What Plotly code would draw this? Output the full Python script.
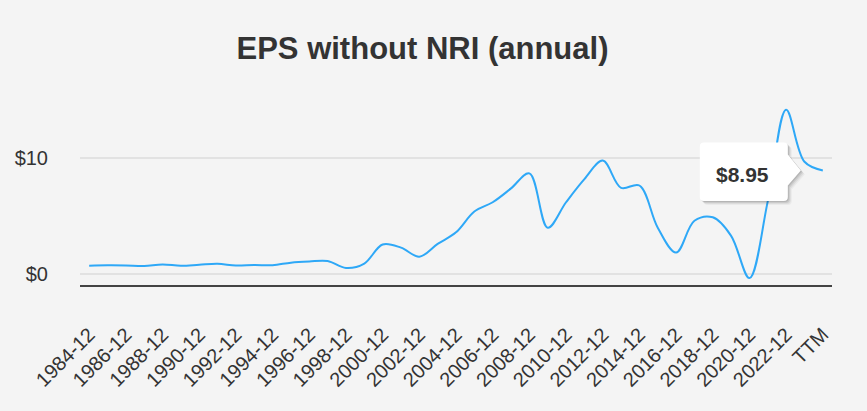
import plotly.graph_objects as go

# ---- data ----
labels = [f"{y}-12" for y in range(1984, 2024)] + ["TTM"]
eps = [0.72, 0.75, 0.74, 0.70, 0.82, 0.72, 0.80, 0.88, 0.73, 0.78,
       0.76, 0.98, 1.08, 1.12, 0.52, 0.90, 2.55, 2.28, 1.50, 2.60,
       3.60, 5.40, 6.20, 7.40, 8.70, 4.00, 6.20, 8.20, 9.80, 7.45,
       7.65, 4.00, 1.85, 4.60, 4.90, 3.30, -0.35, 6.30, 14.20, 9.70,
       8.95]
y_tick_vals = [0, 10]
y_tick_text = ["$0", "$10"]
title_text = "EPS without NRI (annual)"
tooltip_text = "$8.95"

xs = list(range(len(labels)))
tick_idx = [i for i, lab in enumerate(labels) if lab == "TTM" or (int(lab[:4]) - 1984) % 2 == 0]

BG = "#f4f4f4"
TXT = "#333333"
FONT = "Liberation Sans, Arial, sans-serif"

fig = go.Figure()
fig.add_trace(go.Scatter(
    x=xs, y=eps, mode="lines",
    line=dict(color="#2ea8f7", width=2, shape="spline", smoothing=1.0),
    hoverinfo="skip", showlegend=False,
))

last_i = xs[-1]
last_v = eps[-1]

box = ("M -119,28 L -39,28 Q -35,28 -35,24 L -35,16 L -22,0 L -35,-15 "
       "L -35,-26.5 Q -35,-30.5 -39,-30.5 L -119,-30.5 Q -123,-30.5 -123,-26.5 "
       "L -123,24 Q -123,28 -119,28 Z")

def shifted(path, dx, dy):
    out = []
    for tok in path.split(" "):
        if "," in tok:
            a, b = tok.split(",")
            out.append(f"{float(a)+dx},{float(b)+dy}")
        else:
            out.append(tok)
    return " ".join(out)

shapes = []
for (dx, dy, a) in [(4, -4, 0.04), (3, -3, 0.06), (2, -2, 0.08), (1, -1, 0.10)]:
    shapes.append(dict(type="path", xref="x", yref="y", xsizemode="pixel", ysizemode="pixel",
                       xanchor=last_i, yanchor=last_v, path=shifted(box, dx, dy),
                       fillcolor=f"rgba(0,0,0,{a})", line=dict(width=0), layer="above"))
shapes.append(dict(type="path", xref="x", yref="y", xsizemode="pixel", ysizemode="pixel",
                   xanchor=last_i, yanchor=last_v, path=box,
                   fillcolor="#ffffff", line=dict(width=0), layer="above"))

fig.update_layout(
    width=867, height=411,
    margin=dict(l=80, r=35, t=90, b=126),
    paper_bgcolor=BG, plot_bgcolor=BG,
    font=dict(family=FONT, color=TXT),
    title=dict(text=title_text, x=422.5 / 867, xref="container", xanchor="center",
               y=1 - 47.7 / 411, yref="container", yanchor="middle",
               font=dict(size=31, family=FONT, color=TXT, weight="bold")),
    shapes=shapes,
    annotations=[dict(x=last_i, y=last_v, xref="x", yref="y", text=tooltip_text,
                      showarrow=False, xshift=-80, yshift=-4,
                      font=dict(size=21, family=FONT, color=TXT, weight="bold"))],
)
fig.update_xaxes(
    range=[-0.5, len(labels) - 0.5],
    tickmode="array", tickvals=tick_idx, ticktext=[labels[i] for i in tick_idx],
    tickangle=-45, tickfont=dict(size=20, color=TXT),
    showgrid=False, zeroline=False,
    showline=True, linecolor="#444444", linewidth=2,
    ticks="", ticklabelstandoff=28,
)
fig.update_yaxes(
    range=[-0.95, -0.95 + 195 / 11.57],
    tickmode="array", tickvals=y_tick_vals, ticktext=y_tick_text,
    tickfont=dict(size=20, color=TXT),
    showgrid=True, gridcolor="#e2e2e2", gridwidth=2,
    zeroline=False, showline=False, ticks="", ticklabelstandoff=31,
)

fig.write_html("out.html")
